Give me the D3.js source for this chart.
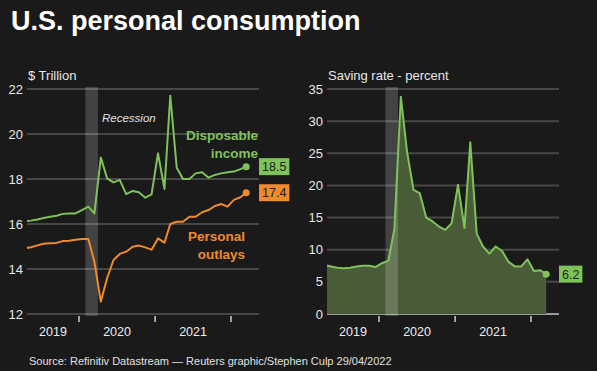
<!DOCTYPE html>
<html>
<head>
<meta charset="utf-8">
<script src="https://cdn.jsdelivr.net/npm/d3@7"></script>
<style>
  html, body { margin: 0; padding: 0; background: #1a1a1a; }
  svg { display: block; font-family: "Liberation Sans", Arial, sans-serif; }
</style>
</head>
<body>
<svg id="chart" width="597" height="371"></svg>
<script>
// monthly data, Apr 2019 - Mar 2022
var months = ["2019-04","2019-05","2019-06","2019-07","2019-08","2019-09","2019-10","2019-11","2019-12",
  "2020-01","2020-02","2020-03","2020-04","2020-05","2020-06","2020-07","2020-08","2020-09","2020-10","2020-11","2020-12",
  "2021-01","2021-02","2021-03","2021-04","2021-05","2021-06","2021-07","2021-08","2021-09","2021-10","2021-11","2021-12",
  "2022-01","2022-02","2022-03"];

var income = [16.13,16.15,16.2,16.27,16.32,16.37,16.45,16.47,16.47,16.62,16.77,16.47,
  18.95,18.03,17.85,17.96,17.33,17.47,17.41,17.17,17.32,19.14,17.56,21.70,
  18.50,18.0,18.0,18.25,18.30,18.06,18.18,18.25,18.30,18.33,18.44,18.55];

var outlays = [14.92,14.97,15.05,15.12,15.14,15.16,15.24,15.26,15.3,15.33,15.33,14.32,
  12.55,13.59,14.4,14.67,14.77,14.99,15.04,14.96,14.86,15.36,15.17,16.0,
  16.1,16.1,16.32,16.32,16.52,16.62,16.8,16.89,16.77,17.07,17.19,17.39];

var saving = [7.6,7.4,7.2,7.1,7.2,7.4,7.5,7.5,7.3,7.9,8.3,13.2,
  33.8,25.2,19.3,18.8,15.0,14.4,13.6,13.1,14.1,20.1,13.4,26.7,
  12.5,10.5,9.4,10.5,9.8,8.1,7.4,7.4,8.5,6.7,6.8,6.2];

var years = ["2019","2020","2021"];
var recession = ["2020-02-01","2020-04-01"];
var leftTicks = [12,14,16,18,20,22];
var rightTicks = [0,5,10,15,20,25,30,35];

var green = "#7fc25a", orange = "#ef8a2d";

var svg = d3.select("#chart");
var dates = months.map(function(m){ var d = d3.timeParse("%Y-%m")(m); return d3.timeDay.offset(d, 14); });

svg.append("text").attr("x", 11).attr("y", 30)
  .attr("fill", "#fff").attr("font-size", 27).attr("font-weight", "bold")
  .text("U.S. personal consumption");

svg.append("text").attr("x", 29).attr("y", 365)
  .attr("fill", "#e0e0e0").attr("font-size", 11)
  .text("Source: Refinitiv Datastream \u2014 Reuters graphic/Stephen Culp 29/04/2022");

function panel(ox, yDomain, yTicks, title, id) {
  var left = ox + 27, right = ox + 259, top = 89, bottom = 314;
  var x = d3.scaleTime()
    .domain([new Date(2020, 0, 1), new Date(2022, 0, 1)])
    .range([ox + 79, ox + 231]);
  var y = d3.scaleLinear().domain(yDomain).range([bottom, top]);

  svg.append("clipPath").attr("id", id)
    .append("rect").attr("x", left).attr("y", 0).attr("width", right - left).attr("height", 371);

  var g = svg.append("g");

  // recession band
  var r0 = x(d3.timeParse("%Y-%m-%d")(recession[0])), r1 = x(d3.timeParse("%Y-%m-%d")(recession[1]));

  g.selectAll(".grid").data(yTicks).enter().append("line")
    .attr("x1", left).attr("x2", right)
    .attr("y1", function(d){ return y(d); }).attr("y2", function(d){ return y(d); })
    .attr("stroke", function(d, i){ return (i === 0 && yDomain[0] === 0) ? "#9a9a9a" : "#474747"; })
    .attr("stroke-width", 2);

  g.selectAll(".ylab").data(yTicks).enter().append("text")
    .attr("x", ox + 23).attr("y", function(d){ return y(d) + 4.5; })
    .attr("text-anchor", "end").attr("fill", "#e8e8e8").attr("font-size", 13)
    .text(function(d){ return d; });

  g.append("text").attr("x", left + 1).attr("y", 80)
    .attr("fill", "#e8e8e8").attr("font-size", 13).text(title);

  // year ticks
  var yearStarts = [new Date(2020,0,1), new Date(2021,0,1), new Date(2022,0,1)];
  g.selectAll(".xt").data(yearStarts).enter().append("line")
    .attr("x1", function(d){ return x(d); }).attr("x2", function(d){ return x(d); })
    .attr("y1", 316).attr("y2", 322)
    .attr("stroke", "#cfcfcf").attr("stroke-width", 1.5);

  g.selectAll(".xl").data(years).enter().append("text")
    .attr("x", function(d){
      var a = Math.max(left, x(new Date(+d, 0, 1)));
      var b = x(new Date(+d + 1, 0, 1));
      return (a + b) / 2;
    })
    .attr("y", 336).attr("text-anchor", "middle")
    .attr("fill", "#eeeeee").attr("font-size", 12.5)
    .text(function(d){ return d; });

  return { g: g, x: x, y: y, r0: r0, r1: r1, left: left, right: right };
}

function band(p) {
  p.g.append("rect").attr("x", p.r0).attr("y", 87)
    .attr("width", p.r1 - p.r0).attr("height", 229)
    .attr("fill", "#ffffff").attr("opacity", 0.18);
}

function valueBox(p, val, color, text) {
  var last = dates.length - 1;
  var cy = p.y(val);
  p.g.append("circle").attr("cx", p.x(dates[last])).attr("cy", cy).attr("r", 3.5).attr("fill", color);
  var t = p.g.append("text").attr("x", p.right + 3).attr("y", cy + 4.5)
    .attr("fill", "#1e1e1e").attr("font-size", 12.5).text(text);
  var w = t.node().getComputedTextLength();
  p.g.insert("rect", "text:last-of-type")
    .attr("x", p.right).attr("y", cy - 8.5).attr("width", w + 6).attr("height", 17)
    .attr("fill", color);
  t.raise();
}

// left panel
var L = panel(0, [12, 22], leftTicks, "$ Trillion", "clipL");
band(L);
var lineL = d3.line()
  .x(function(d, i){ return L.x(dates[i]); })
  .y(function(d){ return L.y(d); });
L.g.append("path").datum(income).attr("d", lineL)
  .attr("fill", "none").attr("stroke", green).attr("stroke-width", 2)
  .attr("stroke-linejoin", "round").attr("clip-path", "url(#clipL)");
L.g.append("path").datum(outlays).attr("d", lineL)
  .attr("fill", "none").attr("stroke", orange).attr("stroke-width", 2)
  .attr("stroke-linejoin", "round").attr("clip-path", "url(#clipL)");

L.g.append("text").attr("x", 102).attr("y", 122)
  .attr("fill", "#e0e0e0").attr("font-size", 11.5).attr("font-style", "italic").text("Recession");

L.g.append("text").attr("x", 258).attr("y", 140).attr("text-anchor", "end")
  .attr("fill", green).attr("font-size", 13.5).attr("font-weight", "bold").text("Disposable");
L.g.append("text").attr("x", 258).attr("y", 158).attr("text-anchor", "end")
  .attr("fill", green).attr("font-size", 13.5).attr("font-weight", "bold").text("income");
L.g.append("text").attr("x", 245).attr("y", 241).attr("text-anchor", "end")
  .attr("fill", orange).attr("font-size", 13.5).attr("font-weight", "bold").text("Personal");
L.g.append("text").attr("x", 245).attr("y", 259).attr("text-anchor", "end")
  .attr("fill", orange).attr("font-size", 13.5).attr("font-weight", "bold").text("outlays");

valueBox(L, income[income.length - 1], green, "18.5");
valueBox(L, outlays[outlays.length - 1], orange, "17.4");

// right panel
var R = panel(300, [0, 35], rightTicks, "Saving rate - percent", "clipR");
var area = d3.area()
  .x(function(d, i){ return R.x(dates[i]); })
  .y0(R.y(0))
  .y1(function(d){ return R.y(d); });
R.g.append("path").datum(saving).attr("d", area)
  .attr("fill", "#4a5c37").attr("clip-path", "url(#clipR)");
band(R);
R.g.append("path").datum(saving).attr("d", area.lineY1())
  .attr("fill", "none").attr("stroke", green).attr("stroke-width", 2)
  .attr("stroke-linejoin", "round").attr("clip-path", "url(#clipR)");
valueBox(R, saving[saving.length - 1], green, "6.2");
</script>
</body>
</html>
